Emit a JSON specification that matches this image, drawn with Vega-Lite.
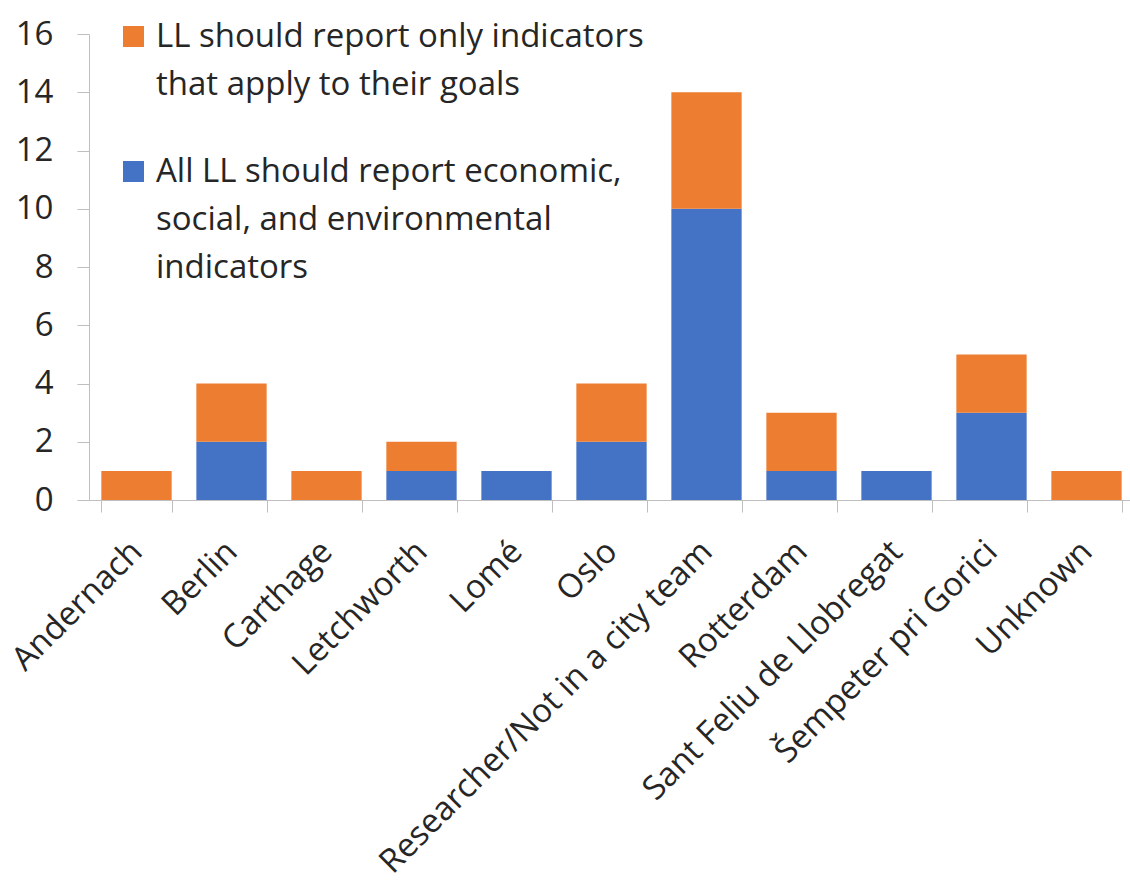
{
  "$schema": "https://vega.github.io/schema/vega-lite/v6.json",
  "width": 1045,
  "height": 466,
  "autosize": {"type": "none"},
  "padding": {"left": 89, "top": 34, "right": 0, "bottom": 380},
  "background": "white",
  "config": {
    "font": "Open Sans",
    "view": {"stroke": null},
    "style": {"guide-label": {"lineHeight": 48}},
    "axis": {"labelFont": "Open Sans", "labelColor": "#262626", "domainColor": "#BFBFBF", "tickColor": "#BFBFBF", "grid": false, "title": null}
  },
  "data": {
    "values": [
      {"city": "Andernach", "type": "All LL should report economic, social, and environmental indicators", "count": 0},
      {"city": "Andernach", "type": "LL should report only indicators that apply to their goals", "count": 1},
      {"city": "Berlin", "type": "All LL should report economic, social, and environmental indicators", "count": 2},
      {"city": "Berlin", "type": "LL should report only indicators that apply to their goals", "count": 2},
      {"city": "Carthage", "type": "All LL should report economic, social, and environmental indicators", "count": 0},
      {"city": "Carthage", "type": "LL should report only indicators that apply to their goals", "count": 1},
      {"city": "Letchworth", "type": "All LL should report economic, social, and environmental indicators", "count": 1},
      {"city": "Letchworth", "type": "LL should report only indicators that apply to their goals", "count": 1},
      {"city": "Lomé", "type": "All LL should report economic, social, and environmental indicators", "count": 1},
      {"city": "Lomé", "type": "LL should report only indicators that apply to their goals", "count": 0},
      {"city": "Oslo", "type": "All LL should report economic, social, and environmental indicators", "count": 2},
      {"city": "Oslo", "type": "LL should report only indicators that apply to their goals", "count": 2},
      {"city": "Researcher/Not in a city team", "type": "All LL should report economic, social, and environmental indicators", "count": 10},
      {"city": "Researcher/Not in a city team", "type": "LL should report only indicators that apply to their goals", "count": 4},
      {"city": "Rotterdam", "type": "All LL should report economic, social, and environmental indicators", "count": 1},
      {"city": "Rotterdam", "type": "LL should report only indicators that apply to their goals", "count": 2},
      {"city": "Sant Feliu de Llobregat", "type": "All LL should report economic, social, and environmental indicators", "count": 1},
      {"city": "Sant Feliu de Llobregat", "type": "LL should report only indicators that apply to their goals", "count": 0},
      {"city": "Šempeter pri Gorici", "type": "All LL should report economic, social, and environmental indicators", "count": 3},
      {"city": "Šempeter pri Gorici", "type": "LL should report only indicators that apply to their goals", "count": 2},
      {"city": "Unknown", "type": "All LL should report economic, social, and environmental indicators", "count": 0},
      {"city": "Unknown", "type": "LL should report only indicators that apply to their goals", "count": 1}
    ]
  },
  "mark": {"type": "bar"},
  "encoding": {
    "x": {
      "field": "city",
      "type": "nominal",
      "sort": null,
      "scale": {"paddingInner": 0.26, "paddingOuter": 0.13},
      "axis": {
        "labelAngle": -45,
        "labelAlign": "right",
        "labelBaseline": "middle",
        "labelFontSize": 33,
        "labelPadding": 34,
        "tickBand": "extent",
        "tickSize": 12,
        "labelLimit": 1000,
        "labelOverlap": false
      }
    },
    "y": {
      "field": "count",
      "type": "quantitative",
      "stack": "zero",
      "scale": {"domain": [0, 16]},
      "axis": {"values": [0, 2, 4, 6, 8, 10, 12, 14, 16], "labelFontSize": 33, "tickSize": 12, "labelPadding": 24}
    },
    "color": {
      "field": "type",
      "type": "nominal",
      "scale": {
        "domain": ["LL should report only indicators that apply to their goals", "All LL should report economic, social, and environmental indicators"],
        "range": ["#ED7D31", "#4472C4"]
      },
      "legend": {
        "orient": "none",
        "legendX": 28,
        "legendY": -14,
        "title": null,
        "symbolType": "square",
        "symbolSize": 441,
        "symbolStrokeWidth": 0,
        "labelFontSize": 33,
        "labelColor": "#262626",
        "labelFont": "Open Sans",
        "labelLimit": 1000,
        "labelOffset": 6,
        "rowPadding": 53,
        "labelExpr": "datum.label == 'LL should report only indicators that apply to their goals' ? ['LL should report only indicators', 'that apply to their goals'] : ['All LL should report economic,', 'social, and environmental', 'indicators']"
      }
    },
    "order": {"field": "type", "sort": "ascending"}
  }
}
